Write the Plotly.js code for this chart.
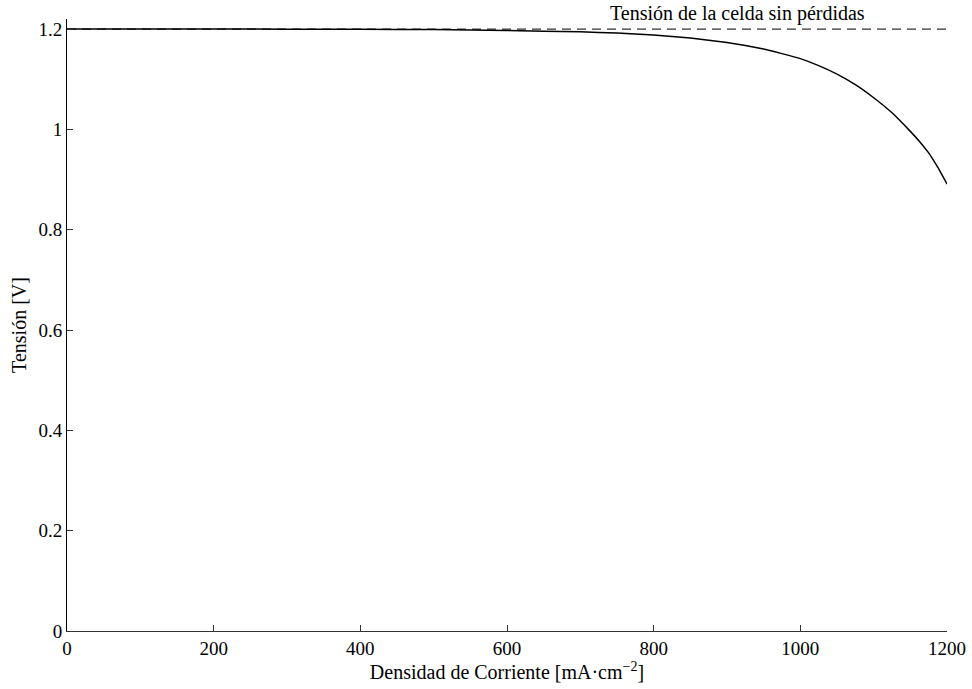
<!DOCTYPE html>
<html>
<head>
<meta charset="utf-8">
<script src="https://cdn.plot.ly/plotly-3.0.1.min.js"></script>
<style>html,body{margin:0;padding:0;background:#fff;}#chart{width:972px;height:689px;}</style>
</head>
<body>
<div id="chart"></div>
<script>
const currentDensity = [0, 200, 400, 500, 600, 700, 750, 800, 850, 900, 925, 950, 975, 1000, 1025, 1050, 1075, 1100, 1125, 1150, 1162.5, 1175, 1187.5, 1200];
const cellVoltage = [1.2, 1.2, 1.1995, 1.199, 1.197, 1.1945, 1.192, 1.188, 1.182, 1.173, 1.167, 1.16, 1.151, 1.141, 1.127, 1.11, 1.089, 1.063, 1.033, 0.996, 0.976, 0.953, 0.924, 0.891];
const idealX = [0, 1200];
const idealV = [1.2, 1.2];
const xTicks = [0, 200, 400, 600, 800, 1000, 1200];
const yTicks = [0, 0.2, 0.4, 0.6, 0.8, 1, 1.2];
const yTickLabels = ['0', '0.2', '0.4', '0.6', '0.8', '1', '1.2'];
const annotationText = 'Tensión de la celda sin pérdidas';

const family = 'Liberation Serif';
const tickFont = {family: family, size: 19, color: '#000'};
const textFont = {family: family, size: 20, color: '#000'};

const traces = [
  {x: idealX, y: idealV, mode: 'lines', line: {color: '#333', width: 1.3, dash: '9px,6px'}, hoverinfo: 'skip'},
  {x: currentDensity, y: cellVoltage, mode: 'lines', line: {color: '#000', width: 1.5, shape: 'spline', smoothing: 0.3}, hoverinfo: 'skip'}
];

const layout = {
  width: 972, height: 689,
  margin: {l: 67, r: 25, t: 19, b: 58},
  paper_bgcolor: '#fff', plot_bgcolor: '#fff',
  showlegend: false,
  font: textFont,
  xaxis: {
    range: [0, 1200], tickvals: xTicks, ticktext: xTicks.map(String),
    ticks: 'inside', ticklen: 6, tickcolor: '#333', tickwidth: 1,
    showline: true, linecolor: '#333', linewidth: 1, showgrid: false, zeroline: false,
    tickfont: tickFont,
    title: {text: 'Densidad de Corriente [mA·cm<sup>−2</sup>]', font: textFont, standoff: 2}
  },
  yaxis: {
    range: [0, 1.22], tickvals: yTicks, ticktext: yTickLabels,
    ticks: 'inside', ticklen: 6, tickcolor: '#333', tickwidth: 1,
    showline: true, linecolor: '#000', linewidth: 1, showgrid: false, zeroline: false,
    tickfont: tickFont,
    title: {text: 'Tensión [V]', font: textFont, standoff: 6}
  },
  annotations: [{
    x: 914, y: 1.2, xref: 'x', yref: 'y', text: annotationText,
    showarrow: false, xanchor: 'center', yanchor: 'bottom', yshift: 2, font: textFont
  }]
};

Plotly.newPlot('chart', traces, layout, {staticPlot: true, displayModeBar: false});
</script>
</body>
</html>
